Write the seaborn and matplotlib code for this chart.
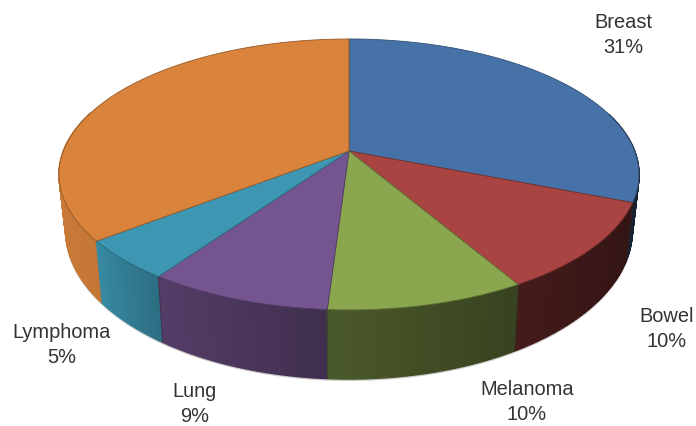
import numpy as np
import matplotlib.pyplot as plt
import seaborn as sns
from matplotlib.collections import PolyCollection
from matplotlib.patches import Polygon

# slice sizes as drawn (the printed labels are rounded differently)
slices = ['Breast', 'Bowel', 'Melanoma', 'Lung', 'Lymphoma', 'Other']
shares = [31, 10.6, 9.4, 8.7, 4.8, 35.5]
labels = ['Breast\n31%', 'Bowel\n10%', 'Melanoma\n10%', 'Lung\n9%', 'Lymphoma\n5%']
colors = ['#4672a8', '#a94442', '#8aa64e', '#75558f', '#3d97b3', '#d9833c']

label_pos = [(623, 35), (667, 329), (527, 402), (195, 404), (62, 345)]


def project(t):
    # perspective view of the unit circle, t clockwise from the top
    u, v = np.sin(t), np.cos(t)
    d = 1 + 0.173 * v
    return 349 + 285.6 * u / d, 151 - 131.4 * v / d


def lower(x, y):
    return 349 + (x - 349) * 0.977, y + 69 - (309 - y) * 0.1


def shade(x):
    # side wall gets darker towards the right
    return np.interp(x, [60, 100, 160, 330, 520, 640], [0.93, 0.9, 0.72, 0.54, 0.40, 0.30])


sns.set_theme(style='white')
plt.rcParams['font.family'] = ['Liberation Sans', 'DejaVu Sans']

fig = plt.figure(figsize=(6.96, 4.26), dpi=100)
ax = fig.add_axes([0, 0, 1, 1])
ax.set_xlim(0, 696)
ax.set_ylim(426, 0)
ax.axis('off')

edges = np.cumsum([0] + shares) / sum(shares) * 2 * np.pi
palette = sns.color_palette(colors)

# side wall, back to front
quads, quad_cols = [], []
for i, c in enumerate(palette):
    ts = np.linspace(edges[i], edges[i + 1], max(3, int(shares[i] * 6)))
    x, y = project(ts)
    bx, by = lower(x, y)
    for j in range(len(ts) - 1):
        if np.cos(ts[j]) > 0.3:
            continue
        quads.append([(x[j], y[j]), (x[j + 1], y[j + 1]), (bx[j + 1], by[j + 1]), (bx[j], by[j])])
        quad_cols.append(np.array(c) * shade((x[j] + x[j + 1]) / 2))
order = np.argsort([q[0][1] for q in quads])
ax.add_collection(PolyCollection([quads[k] for k in order],
                                 facecolors=[quad_cols[k] for k in order],
                                 edgecolors=[quad_cols[k] for k in order],
                                 linewidths=1.1, zorder=2))

# dark seams between the wall sections and along the bottom edge
for t in edges[1:5]:
    x, y = project(t)
    bx, by = lower(x, y)
    ax.plot([x, bx], [y, by], color='#2b2b2b', lw=0.5, alpha=0.6, zorder=3)
ts = np.linspace(np.pi * 0.55, np.pi * 1.5, 200)
bx, by = lower(*project(ts))
ax.plot(bx, by + 1.2, color='#9a9a9a', lw=1.2, alpha=0.5, zorder=1)

# top face
for i, c in enumerate(palette):
    ts = np.linspace(edges[i], edges[i + 1], max(3, int(shares[i] * 6)))
    x, y = project(ts)
    pts = [(349, 151)] + list(zip(x, y))
    ax.add_patch(Polygon(pts, closed=True, facecolor=c, edgecolor=np.array(c) * 0.68,
                         linewidth=0.6, joinstyle='round', zorder=4))

for text, (lx, ly) in zip(labels, label_pos):
    ax.text(lx, ly, text, ha='center', va='center', fontsize=14.4, color='#333333',
            linespacing=1.35, zorder=5)

plt.savefig('out.png', dpi=100)
plt.close()
